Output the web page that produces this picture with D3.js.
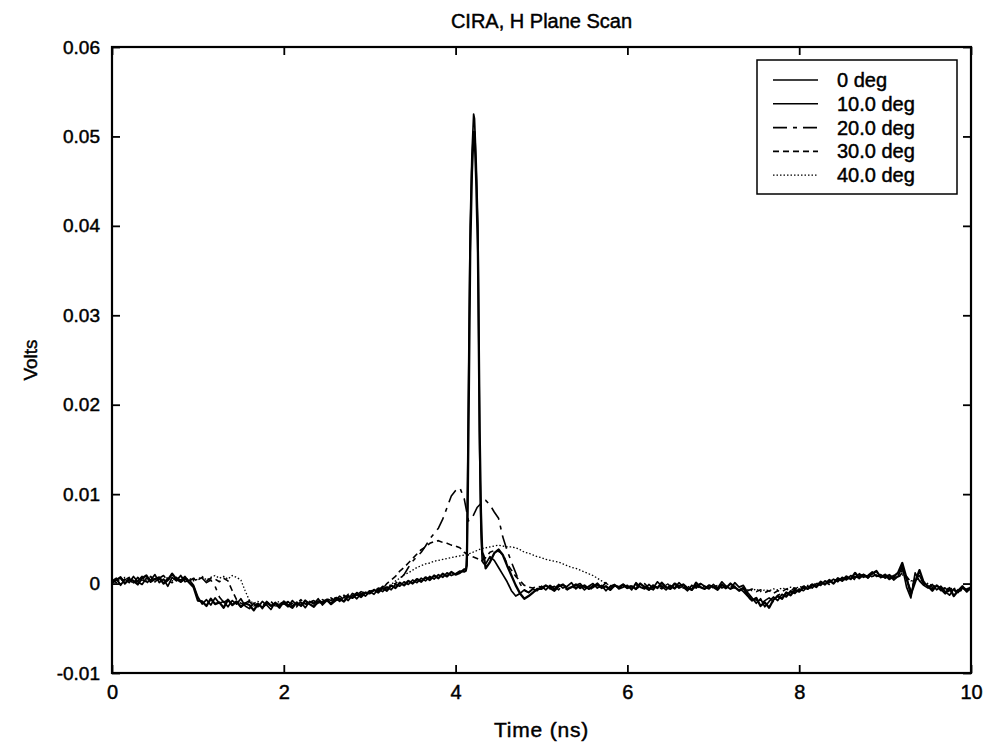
<!DOCTYPE html>
<html><head><meta charset="utf-8">
<script src="https://cdn.jsdelivr.net/npm/d3@7/dist/d3.min.js"></script>
<style>body{margin:0;background:#fff}svg text{font-family:"Liberation Sans",Arial,sans-serif;fill:#000;stroke:#000;stroke-width:0.45px}</style>
</head><body><svg id="c" width="988" height="745"></svg>
<script>
// ---- data (values in mV, sampled every 0.05 ns from 0 to 10 ns) ----
const title = "CIRA, H Plane Scan";
const xLabel = "Time (ns)";
const yLabel = "Volts";
const xTicks = [0, 2, 4, 6, 8, 10];
const xTickLabels = ["0", "2", "4", "6", "8", "10"];
const yTicks = [-0.01, 0, 0.01, 0.02, 0.03, 0.04, 0.05, 0.06];
const yTickLabels = ["-0.01", "0", "0.01", "0.02", "0.03", "0.04", "0.05", "0.06"];
const seriesNames = ["0 deg", "10.0 deg", "20.0 deg", "30.0 deg", "40.0 deg"];
const timeStep = 0.05;

const deg0 = [
 0.3,0.6,-0.2,0.5,0.1,0.8,0.2,-0.1,0.6,0.4,1.0,0.1,0.5,-0.3,0.7,0.3,0.9,0.2,0.4,-0.2,
 -1.5,-2.3,-1.8,-2.4,-1.6,-2.2,-2.0,-2.6,-1.9,-2.3,-1.7,-2.5,-2.8,-2.2,-2.6,-2.0,-2.4,-2.9,-2.1,-2.5,
 -2.2,-2.6,-1.9,-2.4,-2.1,-2.7,-2.0,-2.3,-1.7,-2.4,-1.9,-2.2,-1.6,-2.0,-1.5,-1.9,-1.3,-1.7,-1.1,-1.4,
 -0.9,-1.2,-0.6,-0.9,-0.4,-0.7,-0.1,-0.3,0.2,-0.1,0.4,0.1,0.6,0.3,0.8,0.5,1.0,0.7,1.2,0.9,
 1.1,1.4,1.3,1.5,1.5,1.5,1.5,2.2,3.0,2.6,1.8,1.0,0.2,-0.8,-1.4,-1.1,-0.7,-1.0,-0.6,-0.8,
 -0.3,-0.7,-0.2,-0.6,-0.1,-0.5,-0.3,0.1,-0.6,-0.2,-0.7,-0.3,0.0,-0.5,-0.2,-0.8,-0.3,-0.1,-0.6,-0.4,
 -0.2,-0.7,0.1,-0.4,-0.6,-0.1,-0.5,0.2,-0.3,-0.7,-0.2,-0.5,0.1,-0.4,-0.8,-0.2,-0.5,0.0,-0.3,-0.6,
 -0.1,-0.5,0.2,-0.3,-0.6,0.1,-0.4,-0.2,-1.0,-1.6,-2.2,-1.7,-2.6,-2.0,-1.5,-1.9,-1.2,-1.5,-0.9,-1.1,
 -0.6,-0.8,-0.3,-0.5,0.0,-0.2,0.3,0.1,0.5,0.2,0.7,0.4,0.9,0.6,1.1,0.7,0.9,1.3,0.8,1.0,
 0.6,0.9,0.4,0.8,1.9,-0.4,-1.6,1.2,0.3,-0.2,-0.5,-0.1,-0.7,-0.3,-0.9,-1.3,-0.6,-1.0,-0.4,-0.7,
 -0.5];
const deg10 = [
 0.1,0.4,0.7,0.0,0.5,0.3,-0.1,0.6,0.9,0.2,0.5,0.7,0.0,0.4,1.1,0.5,0.2,0.6,0.1,-0.4,
 -1.9,-2.0,-2.5,-1.7,-2.3,-2.1,-2.7,-1.8,-2.4,-2.0,-2.6,-2.2,-2.4,-3.0,-2.3,-2.7,-2.1,-2.5,-2.2,-2.7,
 -2.0,-2.4,-2.7,-2.1,-2.5,-1.9,-2.3,-2.6,-2.0,-2.2,-1.8,-2.3,-1.9,-1.7,-2.0,-1.4,-1.6,-1.2,-1.5,-1.0,
 -1.1,-0.7,-1.0,-0.5,-0.8,-0.2,-0.5,0.1,-0.2,0.3,0.0,0.5,0.2,0.7,0.4,0.9,0.6,1.1,0.8,1.3,
 1.0,1.2,1.6,1.5,1.5,1.5,1.5,1.7,2.4,3.4,3.8,3.2,2.0,0.9,-0.2,-1.1,-1.7,-1.4,-1.0,-0.6,
 -0.6,-0.2,-0.5,-0.8,-0.3,-0.1,-0.6,-0.4,-0.1,-0.5,-0.2,-0.6,-0.4,0.0,-0.5,-0.3,-0.7,-0.2,-0.4,-0.1,
 -0.5,-0.3,-0.6,0.0,-0.4,-0.7,-0.2,-0.5,0.1,-0.4,-0.6,0.0,-0.3,-0.1,-0.5,-0.7,0.1,-0.4,-0.6,-0.2,
 -0.4,-0.7,-0.1,-0.5,0.0,-0.4,-0.8,-0.5,-1.3,-1.9,-1.6,-2.5,-2.1,-2.7,-1.8,-1.4,-1.7,-1.0,-1.3,-0.7,
 -0.9,-0.4,-0.6,-0.1,-0.4,0.2,-0.1,0.4,0.0,0.6,0.3,0.8,0.5,1.2,0.6,1.0,0.7,1.1,1.4,0.7,
 1.0,0.5,0.8,1.2,2.3,0.6,-1.2,0.2,1.5,0.1,-0.3,-0.8,-0.2,-0.6,-1.1,-0.5,-1.4,-0.8,-0.3,-0.9,
 -0.4];
const deg20 = [
 0.2,0.5,-0.1,0.4,0.7,0.1,0.3,0.8,0.0,0.5,0.2,0.6,0.9,0.3,0.1,0.6,0.4,0.8,0.2,0.5,
 0.3,0.6,0.1,0.4,-0.3,-1.5,-2.1,-1.8,-2.4,-2.0,-2.6,-2.2,-1.9,-2.5,-2.3,-2.8,-2.0,-2.4,-2.6,-2.1,
 -2.3,-2.0,-2.5,-2.2,-1.8,-2.4,-2.1,-1.9,-2.3,-1.8,-2.0,-1.6,-1.9,-1.4,-1.7,-1.2,-1.5,-1.0,-1.3,-0.8,
 -1.0,-0.6,-0.8,-0.3,-0.5,-0.1,0.0,0.5,1.0,1.8,2.5,3.0,3.5,4.2,5.0,5.6,6.2,7.2,8.5,9.8,
 10.4,10.7,9.5,7.0,7.5,8.5,9.0,9.3,8.8,8.0,7.3,5.2,3.7,2.4,1.2,0.0,-0.8,-1.0,-0.6,-0.9,
 -0.5,-0.2,-0.6,-0.3,-0.7,-0.1,-0.4,-0.6,-0.2,0.0,-0.5,-0.3,-0.7,-0.2,-0.4,0.1,-0.5,-0.3,-0.6,-0.1,
 -0.4,-0.2,-0.6,-0.3,0.0,-0.5,-0.7,-0.2,-0.4,0.1,-0.3,-0.6,-0.1,-0.5,-0.2,-0.7,-0.3,0.0,-0.4,-0.5,
 -0.3,-0.6,-0.2,-0.4,-0.7,-0.3,-0.5,-0.9,-1.4,-2.0,-1.8,-2.3,-1.9,-1.6,-2.0,-1.3,-1.1,-1.4,-0.8,-1.0,
 -0.7,-0.5,-0.8,-0.2,-0.3,0.0,0.2,-0.1,0.4,0.3,0.6,0.5,0.8,0.4,0.9,1.0,0.6,1.1,0.9,0.7,
 0.8,1.0,0.6,0.9,1.5,0.5,-0.8,0.6,0.9,0.0,-0.4,-0.6,-0.3,-0.8,-0.5,-1.0,-0.7,-1.2,-0.5,-0.8,
 -0.6];
const deg30 = [
 0.4,0.1,0.6,0.3,0.5,0.0,0.7,0.4,0.2,0.8,0.3,0.5,0.1,0.6,0.4,0.7,0.2,0.5,0.3,0.6,
 0.4,0.7,0.3,0.6,0.5,0.2,0.6,0.3,-0.8,-1.8,-2.2,-2.4,-2.0,-2.5,-2.2,-2.7,-2.3,-2.0,-2.5,-2.3,
 -2.1,-2.4,-2.2,-2.6,-2.0,-2.3,-1.9,-2.2,-1.8,-2.1,-1.7,-1.9,-1.5,-1.8,-1.3,-1.6,-1.1,-1.3,-0.9,-1.1,
 -0.8,-0.9,-0.5,-0.6,0.0,0.4,0.8,1.4,1.8,2.3,2.8,3.3,3.8,4.1,4.5,4.7,4.8,4.6,4.5,4.3,
 4.2,4.0,3.5,3.2,3.0,2.8,2.5,2.9,3.5,3.7,3.6,3.3,2.2,1.5,0.8,0.3,-0.2,-0.4,-0.5,-0.3,
 -0.4,-0.6,-0.3,-0.5,-0.2,-0.4,-0.7,-0.3,-0.5,-0.1,-0.4,-0.6,-0.2,-0.5,-0.3,-0.6,-0.4,-0.1,-0.5,-0.3,
 -0.5,-0.3,-0.1,-0.6,-0.4,-0.2,-0.5,-0.3,-0.6,-0.2,-0.4,-0.1,-0.5,-0.3,-0.6,-0.4,-0.2,-0.5,-0.3,-0.6,
 -0.4,-0.2,-0.5,-0.3,-0.6,-0.4,-0.7,-0.5,-0.8,-0.6,-0.9,-0.7,-1.0,-0.8,-1.1,-0.8,-0.9,-0.6,-0.8,-0.5,
 -0.6,-0.3,-0.5,-0.1,-0.3,0.1,-0.1,0.3,0.2,0.5,0.3,0.6,0.5,0.8,0.6,0.9,0.7,0.8,1.0,0.7,
 0.8,0.6,0.9,0.7,1.2,0.8,0.2,0.4,0.6,0.1,-0.2,-0.4,-0.3,-0.6,-0.5,-0.8,-0.6,-0.9,-0.7,-0.6,
 -0.5];
const deg40 = [
 0.2,0.5,0.3,0.7,0.4,0.1,0.6,0.3,0.8,0.5,0.2,0.6,0.4,0.7,0.3,0.5,0.8,0.4,0.6,0.3,
 0.5,0.8,0.4,0.7,0.9,0.6,0.8,0.5,0.9,0.7,0.4,-0.8,-1.9,-2.2,-2.0,-2.4,-2.1,-2.5,-2.2,-2.0,
 -2.3,-2.1,-2.4,-2.2,-2.0,-2.3,-2.1,-1.9,-2.2,-2.0,-1.8,-1.9,-1.6,-1.7,-1.4,-1.5,-1.2,-1.3,-1.0,-1.1,
 -0.9,-0.8,-0.6,-0.6,-0.4,-0.1,0.3,0.6,1.0,1.2,1.5,1.8,2.0,2.2,2.3,2.5,2.6,2.7,2.8,2.9,
 3.0,3.1,3.2,3.3,3.5,3.7,3.9,4.0,4.1,4.2,4.3,4.2,4.1,4.1,4.0,3.8,3.5,3.4,3.2,3.0,
 2.9,2.7,2.6,2.5,2.4,2.2,2.0,1.8,1.7,1.5,1.3,1.1,0.9,0.6,0.3,0.0,-0.2,-0.3,-0.4,-0.3,
 -0.3,-0.5,-0.2,-0.4,-0.3,-0.5,-0.2,-0.4,-0.3,-0.1,-0.4,-0.2,-0.5,-0.3,-0.4,-0.2,-0.3,-0.5,-0.4,-0.2,
 -0.3,-0.5,-0.4,-0.6,-0.3,-0.5,-0.7,-0.6,-0.7,-0.8,-0.6,-0.9,-0.7,-0.8,-0.6,-0.7,-0.5,-0.6,-0.4,-0.5,
 -0.4,-0.3,-0.2,-0.1,0.0,0.1,0.2,0.3,0.4,0.5,0.5,0.6,0.7,0.7,0.8,0.8,0.9,0.8,0.9,0.8,
 0.7,0.8,0.6,0.7,1.0,0.6,0.3,0.4,0.5,0.2,0.0,-0.2,-0.3,-0.4,-0.5,-0.6,-0.5,-0.7,-0.6,-0.5,
 -0.5];
// the narrow main pulse of the 0 and 10 deg traces, finer time sampling (ns, mV)
const spikeTime = [4.12, 4.13, 4.14, 4.155, 4.17, 4.19, 4.21, 4.22, 4.24, 4.26, 4.28, 4.295, 4.31, 4.33];
const spike0 = [1.4, 3.0, 12, 27, 40, 48, 52.5, 52, 47, 40, 15, 6, 2.5, 2.2];
const spike10 = [1.5, 2.0, 8, 22, 37, 46, 50.5, 50.5, 45, 37, 17, 8, 3.5, 3.0];

// ---- build ----
const svg = d3.select("#c");
const W = 988, H = 745;
const m = {left: 112, right: 17, top: 47, bottom: 72};
const x = d3.scaleLinear().domain([0, 10]).range([m.left, W - m.right]);
const y = d3.scaleLinear().domain([-0.01, 0.06]).range([H - m.bottom, m.top]);

function toPoints(vals, sT, sV) {
  let pts = vals.map((v, i) => [i * timeStep, v / 1000]);
  if (sT) {
    pts = pts.filter(p => p[0] < sT[0] - 1e-9 || p[0] > sT[sT.length - 1] + 1e-9)
      .concat(sT.map((t, i) => [t, sV[i] / 1000]))
      .sort((a, b) => a[0] - b[0]);
  }
  return pts;
}
const styles = [
  {w: 1.7, dash: null},
  {w: 2.3, dash: null},
  {w: 1.6, dash: "14,6,4,6"},
  {w: 1.6, dash: "6,4"},
  {w: 1.3, dash: "1.5,2"}
];
const series = [
  toPoints(deg0, spikeTime, spike0),
  toPoints(deg10, spikeTime, spike10),
  toPoints(deg20),
  toPoints(deg30),
  toPoints(deg40)
];
const line = d3.line().x(d => x(d[0])).y(d => y(d[1]));

svg.append("rect").attr("width", W).attr("height", H).attr("fill", "#fff").attr("stroke", "none");

const plot = svg.append("g");
series.slice().reverse().forEach((s, ri) => {
  const i = series.length - 1 - ri;
  plot.append("path").datum(s).attr("d", line)
    .attr("fill", "none").attr("stroke", "#000")
    .attr("stroke-width", styles[i].w)
    .attr("stroke-dasharray", styles[i].dash)
    .attr("stroke-linejoin", "round");
});

// axes: ticks inward on all sides
const fs = 19;
const xAxisB = d3.axisBottom(x).tickValues(xTicks).tickSize(-8).tickPadding(12)
  .tickFormat((d, i) => xTickLabels[i]);
const gxb = svg.append("g").attr("transform", `translate(0,${H - m.bottom})`).call(xAxisB);
const xAxisT = d3.axisTop(x).tickValues(xTicks).tickSize(-8).tickFormat("");
const gxt = svg.append("g").attr("transform", `translate(0,${m.top})`).call(xAxisT);
const yAxisL = d3.axisLeft(y).tickValues(yTicks).tickSize(-8).tickPadding(12)
  .tickFormat((d, i) => yTickLabels[i]);
const gyl = svg.append("g").attr("transform", `translate(${m.left},0)`).call(yAxisL);
const yAxisR = d3.axisRight(y).tickValues(yTicks).tickSize(-8).tickFormat("");
const gyr = svg.append("g").attr("transform", `translate(${W - m.right},0)`).call(yAxisR);
[gxb, gxt, gyl, gyr].forEach(g => {
  g.select(".domain").remove();
  g.selectAll(".tick line").attr("stroke", "#000").attr("stroke-width", 1.8);
  g.selectAll("text").attr("font-size", fs).attr("font-family", "Liberation Sans, Arial, sans-serif").attr("fill", "#000");
});
gxb.selectAll("text").attr("font-size", 20);
svg.append("rect").attr("x", m.left).attr("y", m.top)
  .attr("width", W - m.left - m.right).attr("height", H - m.top - m.bottom)
  .attr("fill", "none").attr("stroke", "#000").attr("stroke-width", 2.2);

// titles
svg.append("text").attr("x", (m.left + W - m.right) / 2).attr("y", 28)
  .attr("text-anchor", "middle").attr("font-size", 20).text(title);
svg.append("text").attr("x", (m.left + W - m.right) / 2).attr("y", 737)
  .attr("text-anchor", "middle").attr("font-size", 21).attr("letter-spacing", 0.8).text(xLabel);
svg.append("text").attr("transform", `translate(37,${(m.top + H - m.bottom) / 2}) rotate(-90)`)
  .attr("text-anchor", "middle").attr("font-size", fs).text(yLabel);

// legend
const lg = svg.append("g");
lg.append("rect").attr("x", 757).attr("y", 60).attr("width", 200).attr("height", 134)
  .attr("fill", "#fff").attr("stroke", "#000").attr("stroke-width", 1.5);
seriesNames.forEach((n, i) => {
  const yy = 80 + i * 23.8;
  lg.append("line").attr("x1", 773).attr("x2", 818).attr("y1", yy).attr("y2", yy)
    .attr("stroke", "#000").attr("stroke-width", Math.min(styles[i].w, 1.6))
    .attr("stroke-dasharray", styles[i].dash);
  lg.append("text").attr("x", 837).attr("y", yy + 7).attr("font-size", 20).text(n);
});
</script></body></html>
